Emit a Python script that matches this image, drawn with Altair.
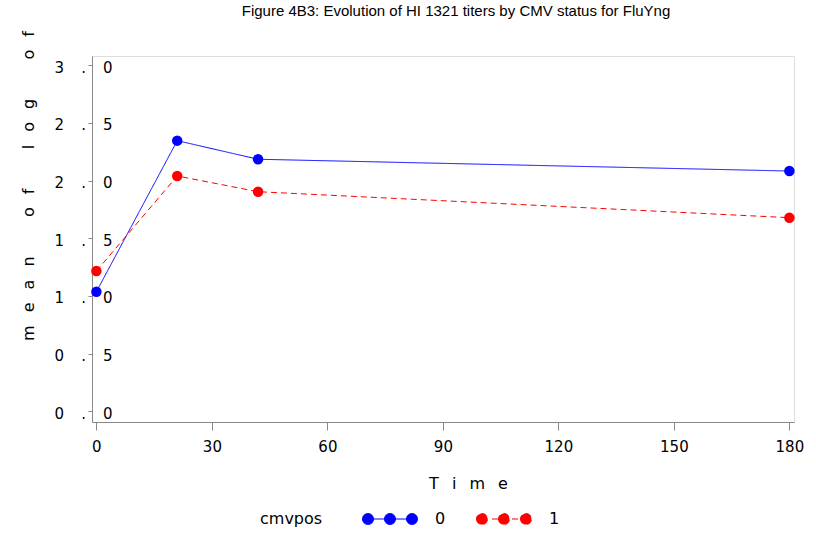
import altair as alt
import pandas as pd

# Mean log HI 1321 titer by day, per CMV status
time_days = [0, 21, 42, 180]
mean_cmv0 = [1.037, 2.345, 2.184, 2.082]
mean_cmv1 = [1.216, 2.039, 1.903, 1.678]
groups = ["0", "1"]
group_colors = ["#0000ff", "#ff0000"]
group_dashes = [[1, 0], [6, 4]]
x_ticks = [0, 30, 60, 90, 120, 150, 180]
y_ticks = [0.0, 0.5, 1.0, 1.5, 2.0, 2.5, 3.0]

rows = []
for t, v in zip(time_days, mean_cmv0):
    rows.append({"Time": t, "mean": v, "cmvpos": "0"})
for t, v in zip(time_days, mean_cmv1):
    rows.append({"Time": t, "mean": v, "cmvpos": "1"})
df = pd.DataFrame(rows)

NB = "\u00a0"
EN = "\u2002"
GAP = EN + NB
WORD = GAP * 3


def spaced(text):
    return WORD.join(GAP.join(list(w)) for w in text.split(" "))


# tick labels in the "3 . 0" style, split across the axis line
SEP = EN + NB + NB
label_expr = "replace(format(datum.value, '.1f'), '.', '" + SEP + "." + SEP + "')"

# legend symbol: three dots joined by a line (unit coordinates)
legend_path = (
    "M-1,0 A1,1 0 1,0 1,0 A1,1 0 1,0 -1,0 Z "
    "M3,0 A1,1 0 1,0 5,0 A1,1 0 1,0 3,0 Z "
    "M7,0 A1,1 0 1,0 9,0 A1,1 0 1,0 7,0 Z "
    "M0,0 L8,0"
)

x_enc = alt.X(
    "Time:Q",
    scale=alt.Scale(domain=[-1.14, 181.2], nice=False, zero=False),
    axis=alt.Axis(
        values=x_ticks,
        grid=False,
        tickSize=8,
        labelPadding=9,
        labelFont="DejaVu Sans",
        labelFontSize=15,
        labelColor="#000000",
        title=spaced("Time"),
        titleFont="DejaVu Sans",
        titleFontSize=16,
        titleFontWeight="normal",
        titleColor="#000000",
        titleX=376,
        titleY=66,
        titleAlign="center",
        titleBaseline="alphabetic",
    ),
)

y_enc = alt.Y(
    "mean:Q",
    scale=alt.Scale(domain=[-0.091, 3.078], nice=False, zero=False),
    axis=alt.Axis(
        values=y_ticks,
        grid=False,
        tickSize=4,
        labelExpr=label_expr,
        labelAlign="right",
        labelPadding=-24,
        labelOffset=2,
        labelFont="DejaVu Sans",
        labelFontSize=15,
        labelColor="#000000",
        title=spaced("mean of log of"),
        titleFont="DejaVu Sans",
        titleFontSize=16,
        titleFontWeight="normal",
        titleColor="#000000",
        titleAngle=270,
        titleX=-59,
        titleY=129.5,
        titleAlign="center",
        titleBaseline="alphabetic",
    ),
)

legend = alt.Legend(
    title="cmvpos",
    orient="none",
    legendX=168,
    legendY=455,
    direction="horizontal",
    titleOrient="left",
    titleFont="DejaVu Sans",
    titleFontSize=16,
    titleFontWeight="normal",
    titleColor="#000000",
    titlePadding=37,
    labelFont="DejaVu Sans",
    labelFontSize=16,
    labelColor="#000000",
    labelOffset=59,
    columnPadding=28,
    symbolType=legend_path,
    symbolSize=121,
    symbolStrokeWidth=1,
)

color_enc = alt.Color(
    "cmvpos:N",
    scale=alt.Scale(domain=groups, range=group_colors),
    legend=legend,
)
dash_enc = alt.StrokeDash(
    "cmvpos:N",
    scale=alt.Scale(domain=groups, range=group_dashes),
    legend=legend,
)

lines = alt.Chart(df).mark_line(strokeWidth=1).encode(
    x=x_enc, y=y_enc, color=color_enc, strokeDash=dash_enc
)
points = alt.Chart(df).mark_point(filled=True, size=110, opacity=1).encode(
    x=x_enc, y=y_enc, color=color_enc
)

chart = (
    alt.layer(lines, points)
    .properties(
        width=702,
        height=366,
        padding={"left": 92, "top": 56, "right": 22, "bottom": 112},
        autosize=alt.AutoSizeParams(type="none"),
        title=alt.TitleParams(
            "Figure 4B3: Evolution of HI 1321 titers by CMV status for FluYng",
            font="Liberation Sans",
            fontSize=15,
            fontWeight="normal",
            color="#000000",
            anchor="middle",
            frame="group",
            baseline="alphabetic",
            offset=3,
            dx=13,
            dy=3,
        ),
    )
    .configure_view(stroke="#444444", strokeWidth=1)
    .configure_axis(domainColor="#444444", tickColor="#333333")
    .configure(background="#ffffff")
)

chart.save("out.html", embed_options={"renderer": "svg", "actions": False})
